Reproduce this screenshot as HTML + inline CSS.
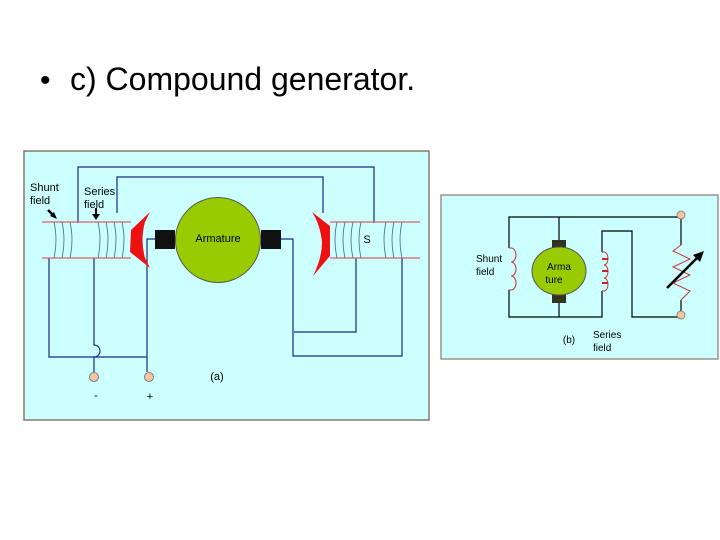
<!DOCTYPE html>
<html><head><style>
body{margin:0;background:#fff;}
svg{display:block;font-family:"Liberation Sans",Arial,sans-serif;}
</style></head><body>
<svg width="720" height="540" viewBox="0 0 720 540" xmlns="http://www.w3.org/2000/svg">
<rect width="720" height="540" fill="#fff"/>
<text x="40" y="90" font-size="30" fill="#000">•</text>
<text x="70" y="90" font-size="32" fill="#000">c) Compound generator.</text>

<!-- left panel -->
<rect x="24" y="151" width="405" height="269" fill="#ccffff" stroke="#8a7868" stroke-width="1.5"/>
<g stroke="#1a2a80" stroke-width="1.2" fill="none">
<polyline points="78,223 78,167 374,167 374,223"/>
<polyline points="117,213 117,177 323,177 323,213"/>
<polyline points="49,258 49,357 147,357"/>
<polyline points="155,239 147,239 147,372"/>
<path d="M94,258 V345 a6,6 0 0 1 0,12 V372"/>
<polyline points="281,239 293,239 293,356 402,356 402,258"/>
<polyline points="294,332 356,332 356,258"/>
</g>
<!-- coils -->
<g stroke="#e06060" stroke-width="1.2">
<line x1="42" y1="222" x2="131" y2="222"/><line x1="42" y1="258" x2="131" y2="258"/>
<line x1="330" y1="222" x2="420" y2="222"/><line x1="330" y1="258" x2="420" y2="258"/>
</g>
<g stroke="#446688" stroke-width="0.8" fill="none">
<path d="M54,222 q4,18 0,36 M62,222 q4,18 0,36 M70,222 q4,18 0,36 M98,222 q4,18 0,36 M106,222 q4,18 0,36 M114,222 q4,18 0,36 M122,222 q4,18 0,36"/>
<path d="M337,222 q-4,18 0,36 M345,222 q-4,18 0,36 M353,222 q-4,18 0,36 M361,222 q-4,18 0,36 M386,222 q-4,18 0,36 M394,222 q-4,18 0,36 M402,222 q-4,18 0,36"/>
</g>
<path d="M150,212 L131,230 L130,252 L150,268 L145,258 Q140,240 145,222 Z" fill="#ee1111"/>
<path d="M312,212 L330,226 L330,256 L313,276 Q322,258 322,242 Q320,224 312,212 Z" fill="#ee1111"/>
<rect x="155" y="230" width="20" height="19" fill="#111"/>
<rect x="261" y="230" width="20" height="19" fill="#111"/>
<circle cx="218" cy="240" r="42.5" fill="#99cc00" stroke="#555" stroke-width="1"/>
<text x="218" y="242" font-size="11" text-anchor="middle">Armature</text>
<text x="367" y="243" font-size="11" text-anchor="middle">S</text>
<text x="30" y="191" font-size="11">Shunt</text><text x="30" y="204" font-size="11">field</text>
<text x="84" y="195" font-size="11">Series</text><text x="84" y="208" font-size="11">field</text>
<line x1="48" y1="210" x2="54" y2="216" stroke="#000" stroke-width="2.5"/>
<polygon points="57,219 50,216 54,212" fill="#000"/>
<line x1="96" y1="208" x2="96" y2="215" stroke="#000" stroke-width="2"/>
<polygon points="92,214 100,214 96,220" fill="#000"/>
<circle cx="94" cy="377" r="4.5" fill="#f5c5a0" stroke="#666" stroke-width="0.8"/>
<circle cx="149" cy="377" r="4.5" fill="#f5c5a0" stroke="#666" stroke-width="0.8"/>
<text x="96" y="399" font-size="11" text-anchor="middle">-</text>
<text x="150" y="400" font-size="11" text-anchor="middle">+</text>
<text x="217" y="380" font-size="11" text-anchor="middle">(a)</text>

<!-- right panel -->
<rect x="441" y="195" width="277" height="164" fill="#ccffff" stroke="#8a7868" stroke-width="1.2"/>
<g stroke="#000" stroke-width="1.2" fill="none">
<polyline points="509,248 509,217 681,217"/>
<polyline points="509,290 509,317 602,317 602,291"/>
<line x1="559" y1="217" x2="559" y2="317"/>
<polyline points="602,252 602,231 632,231 632,317 681,317"/>
<line x1="681" y1="217" x2="681" y2="245"/><line x1="681" y1="300" x2="681" y2="317"/>
</g>
<g stroke="#cc3333" stroke-width="1" fill="none">
<path d="M509,248 h2 a5,7 0 0 1 0,14 a5,7 0 0 1 0,14 a5,7 0 0 1 0,14 h-2"/>
<path d="M602,252 h2 a4,6.5 0 0 1 0,13 a4,6.5 0 0 1 0,13 a4,6.5 0 0 1 0,13 h-2"/>
<polyline points="681,245 673,251 690,259 673,267 690,275 673,283 690,291 681,300"/>
</g>
<g stroke="#cc2222" stroke-width="2"><line x1="602" y1="259" x2="608" y2="259"/><line x1="602" y1="271" x2="608" y2="271"/><line x1="602" y1="283" x2="608" y2="283"/></g>
<rect x="552" y="240" width="14" height="10" fill="#333322"/>
<rect x="552" y="293" width="14" height="10" fill="#333322"/>
<ellipse cx="559" cy="271" rx="27" ry="24" fill="#99cc00" stroke="#555"/>
<text x="559" y="270" font-size="10" text-anchor="middle">Arma</text>
<text x="554" y="283" font-size="10" text-anchor="middle">ture</text>
<line x1="667" y1="288" x2="700" y2="255" stroke="#000" stroke-width="2.5"/>
<polygon points="704,251 693,255 700,262" fill="#000"/>
<circle cx="681" cy="215" r="4" fill="#f5c5a0" stroke="#777" stroke-width="0.8"/>
<circle cx="681" cy="315" r="4" fill="#f5c5a0" stroke="#777" stroke-width="0.8"/>
<text x="476" y="262" font-size="10">Shunt</text><text x="476" y="275" font-size="10">field</text>
<text x="569" y="343" font-size="10" text-anchor="middle">(b)</text>
<text x="593" y="338" font-size="10">Series</text><text x="593" y="351" font-size="10">field</text>
</svg>
</body></html>
